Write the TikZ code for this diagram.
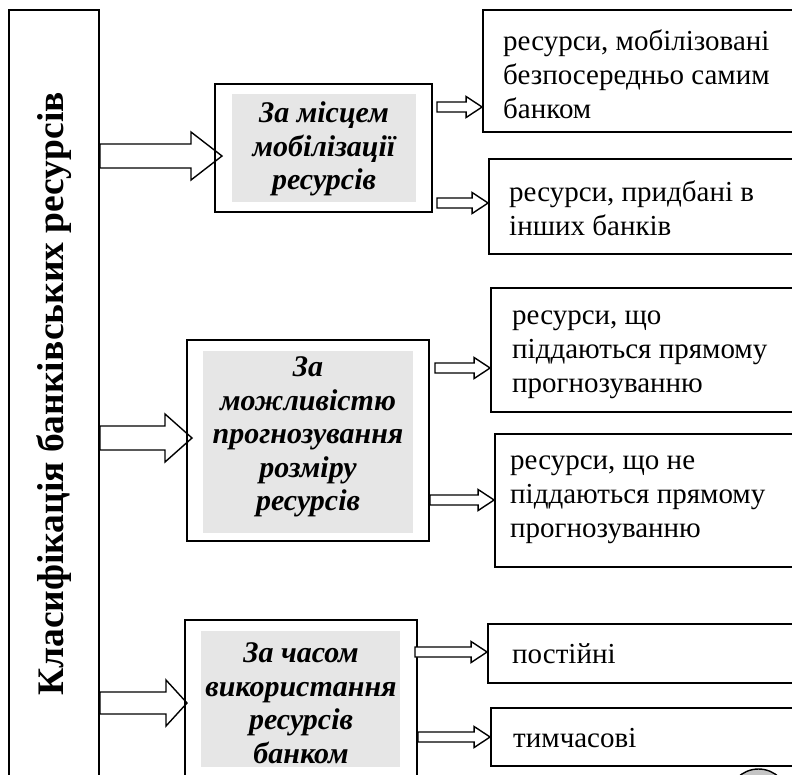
\documentclass[tikz,border=0pt]{standalone}
\usepackage{fontspec}
\setmainfont{Liberation Serif}
\usetikzlibrary{calc}
\definecolor{gfill}{HTML}{E6E6E6}
\definecolor{cfill}{HTML}{C4C4C4}
\tikzset{
  box/.style={draw, line width=1.8pt, inner sep=0pt},
  graybox/.style={fill=gfill, draw=none, inner sep=0pt},
  head/.style={font=\fontsize{30}{33.5}\selectfont\bfseries\itshape, align=center, inner sep=0pt},
  item/.style={font=\fontsize{29}{34}\selectfont, align=left, inner sep=0pt, anchor=west},
  title/.style={font=\fontsize{37.5}{44}\selectfont\bfseries, inner sep=0pt},
  arrowline/.style={draw, fill=white, line width=1.4pt, line join=miter},
}
\newcommand{\blockarr}[5]{%
  \path[arrowline] let \p1=(#1), \p2=(#2) in
   (\x1,\y1+#3) -- (\x2-#5,\y1+#3) -- (\x2-#5,\y1+#4) -- (\x2,\y1)
   -- (\x2-#5,\y1-#4) -- (\x2-#5,\y1-#3) -- (\x1,\y1-#3) -- cycle;}
\begin{document}
\begin{tikzpicture}[x=1pt,y=-1pt]
\clip (0,0) rectangle (792,774);
% left box
\node[box, minimum width=90pt, minimum height=800pt] (L) at (54,410) {};
\node[title, rotate=90] (Lt) at (54,394) {Класифікація банківських ресурсів};
% arrow coordinates
\coordinate (a1s) at (L.east |- 0,156);  \coordinate (a1e) at (222,156);
\coordinate (a2s) at (L.east |- 0,438);  \coordinate (a2e) at (192,438);
\coordinate (a3s) at (L.east |- 0,703);  \coordinate (a3e) at (187,703);
\blockarr{a1s}{a1e}{12pt}{24pt}{31pt}
\blockarr{a2s}{a2e}{12pt}{24pt}{27pt}
\blockarr{a3s}{a3e}{11pt}{23pt}{21pt}
% middle boxes
\node[graybox, minimum width=184pt, minimum height=108pt] (G1) at (324,148) {};
\node[box, minimum width=217pt, minimum height=128pt] (B1) at (323.5,148) {};
\node[head] (T1) at (324,149) {За місцем\\мобілізації\\ресурсів};
\node[graybox, minimum width=210pt, minimum height=182pt] (G2) at (308,442) {};
\node[box, minimum width=242pt, minimum height=201pt] (B2) at (308,440.5) {};
\node[head] (T2) at (308,437) {За\\можливістю\\прогнозування\\розміру\\ресурсів};
\node[graybox, minimum width=199pt, minimum height=136pt] (G3) at (300.5,699) {};
\node[box, minimum width=232pt, minimum height=200pt] (B3) at (301,720) {};
\node[head] (T3) at (301,703) {За часом\\використання\\ресурсів\\банком};
% right boxes
\node[box, minimum width=317pt, minimum height=122pt] (R1) at (641.5,71) {};
\node[box, minimum width=311pt, minimum height=95pt] (R2) at (644.5,206.5) {};
\node[box, minimum width=309pt, minimum height=124pt] (R3) at (645.5,350) {};
\node[box, minimum width=305pt, minimum height=133pt] (R4) at (647.5,500.5) {};
\node[box, minimum width=312pt, minimum height=59pt] (R5) at (644,653.5) {};
\node[box, minimum width=309pt, minimum height=58pt] (R6) at (645.5,737) {};
\node[item] (R1t) at (503,74) {ресурси, мобілізовані\\безпосередньо самим\\банком};
\node[item] (R2t) at (509,208) {ресурси, придбані в\\інших банків};
\node[item] (R3t) at (512,355) {ресурси, що\\піддаються прямому\\прогнозуванню};
\node[item] (R4t) at (510,500) {ресурси, що не\\піддаються прямому\\прогнозуванню};
\node[item] (R5t) at (512,654) {постійні};
\node[item] (R6t) at (513,738) {тимчасові};
% small arrows
\coordinate (b1s) at (437,107); \coordinate (b1e) at (R1.west |- 0,107);
\coordinate (b2s) at (437,203); \coordinate (b2e) at (R2.west |- 0,203);
\coordinate (b3s) at (435,368); \coordinate (b3e) at (R3.west |- 0,368);
\coordinate (b4s) at (B2.east |- 0,500); \coordinate (b4e) at (R4.west |- 0,500);
\coordinate (b5s) at (415,652); \coordinate (b5e) at (R5.west |- 0,652);
\coordinate (b6s) at (418,737); \coordinate (b6e) at (R6.west |- 0,737);
\foreach \s/\e in {b1s/b1e,b2s/b2e,b3s/b3e,b4s/b4e,b5s/b5e,b6s/b6e}{
  \blockarr{\s}{\e}{5pt}{10.5pt}{16pt}
}
% partial circle at bottom
\node[draw, line width=1.4pt, fill=cfill, circle, minimum size=60pt, inner sep=0pt] (C) at (758.5,799) {};
\end{tikzpicture}
\end{document}
